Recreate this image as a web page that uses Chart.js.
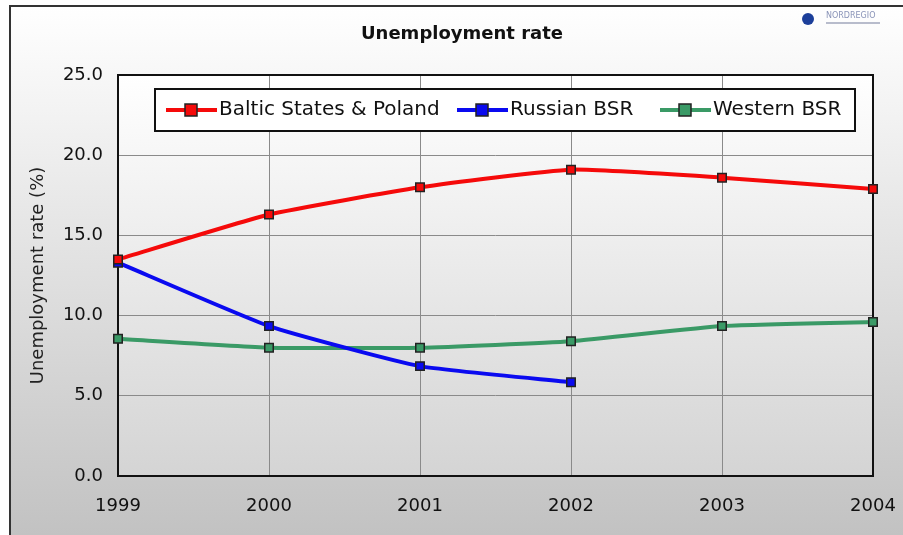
<!DOCTYPE html>
<html>
<head>
<meta charset="utf-8">
<script src="https://cdn.jsdelivr.net/npm/chart.js@4.4.1/dist/chart.umd.min.js"></script>
<style>
  html, body { margin: 0; padding: 0; background: #ffffff; }
  #wrap { width: 903px; height: 535px; position: relative; }
</style>
</head>
<body>
<div id="wrap"><canvas id="unempChart" width="903" height="535"></canvas></div>
<script>
// Data
const years = ['1999', '2000', '2001', '2002', '2003', '2004'];
const balticPoland = [13.5, 16.3, 18.0, 19.1, 18.6, 17.9];
const russianBSR = [13.3, 9.35, 6.85, 5.85, null, null];
const westernBSR = [8.55, 8.0, 8.0, 8.4, 9.35, 9.6];
const yTicks = [0, 5, 10, 15, 20, 25];

const FONT = '"DejaVu Sans", Verdana, sans-serif';

// Backgrounds, frame, title, logo and the in-plot legend
const decorPlugin = {
    id: 'decor',
    beforeDraw(chart) {
        const ctx = chart.ctx;
        const ca = chart.chartArea;
        ctx.save();
        // outer panel with grey gradient
        const g = ctx.createLinearGradient(0, 5, 0, 535);
        g.addColorStop(0, '#ffffff');
        g.addColorStop(1, '#c2c2c2');
        ctx.fillStyle = g;
        ctx.fillRect(9, 5, 903, 535);
        ctx.strokeStyle = '#333333';
        ctx.lineWidth = 2;
        ctx.beginPath();
        ctx.moveTo(10, 540);
        ctx.lineTo(10, 6);
        ctx.lineTo(905, 6);
        ctx.stroke();
        // plot area gradient
        const pg = ctx.createLinearGradient(0, ca.top, 0, ca.bottom);
        pg.addColorStop(0, '#ffffff');
        pg.addColorStop(1, '#d4d4d4');
        ctx.fillStyle = pg;
        ctx.fillRect(ca.left, ca.top, ca.right - ca.left, ca.bottom - ca.top);
        // title
        ctx.fillStyle = '#111111';
        ctx.font = 'bold 18px ' + FONT;
        ctx.textAlign = 'center';
        ctx.textBaseline = 'middle';
        ctx.fillText('Unemployment rate', 462, 34);
        // logo
        ctx.fillStyle = '#1c3f9a';
        ctx.beginPath();
        ctx.arc(808, 19, 6, 0, Math.PI * 2);
        ctx.fill();
        ctx.fillStyle = '#8a94b8';
        ctx.font = '8px ' + FONT;
        ctx.textAlign = 'left';
        ctx.fillText('NORDREGIO', 826, 16);
        ctx.fillStyle = '#b8bccc';
        ctx.fillRect(826, 22, 54, 2);
        ctx.restore();
    },
    beforeDatasetsDraw(chart) {
        const ctx = chart.ctx;
        const ca = chart.chartArea;
        ctx.save();
        ctx.strokeStyle = '#111111';
        ctx.lineWidth = 2;
        ctx.strokeRect(ca.left, ca.top, ca.right - ca.left, ca.bottom - ca.top);
        ctx.restore();
    },
    afterDraw(chart) {
        const ctx = chart.ctx;
        const box = { x: 155, y: 89, w: 700, h: 42 };
        ctx.save();
        ctx.fillStyle = '#ffffff';
        ctx.fillRect(box.x, box.y, box.w, box.h);
        ctx.strokeStyle = '#111111';
        ctx.lineWidth = 2;
        ctx.strokeRect(box.x, box.y, box.w, box.h);
        const starts = [166, 457, 660];
        const cy = box.y + box.h / 2;
        ctx.font = '20px ' + FONT;
        ctx.textBaseline = 'middle';
        ctx.textAlign = 'left';
        chart.data.datasets.forEach((ds, i) => {
            const x = starts[i];
            ctx.strokeStyle = ds.borderColor;
            ctx.lineWidth = 4;
            ctx.beginPath();
            ctx.moveTo(x, cy);
            ctx.lineTo(x + 51, cy);
            ctx.stroke();
            ctx.fillStyle = ds.backgroundColor;
            ctx.fillRect(x + 19, cy - 6, 12, 12);
            ctx.strokeStyle = '#222222';
            ctx.lineWidth = 1.5;
            ctx.strokeRect(x + 19, cy - 6, 12, 12);
            ctx.fillStyle = '#111111';
            ctx.fillText(ds.label, x + 53, cy);
        });
        ctx.restore();
    }
};

function makeSeries(label, data, color) {
    return {
        label: label,
        data: data,
        borderColor: color,
        backgroundColor: color,
        borderWidth: 4,
        tension: 0.15,
        pointStyle: 'rect',
        pointRadius: 6,
        pointBorderColor: '#222222',
        pointBorderWidth: 1.5,
        pointBackgroundColor: color,
        clip: false,
        spanGaps: false
    };
}

const config = {
    type: 'line',
    data: {
        labels: years,
        datasets: [
            makeSeries('Baltic States & Poland', balticPoland, '#f50a0a'),
            makeSeries('Russian BSR', russianBSR, '#0a0af0'),
            makeSeries('Western BSR', westernBSR, '#3a9a66')
        ]
    },
    options: {
        responsive: false,
        animation: false,
        layout: { padding: { top: 75, right: 30, left: 0, bottom: 0 } },
        plugins: {
            legend: { display: false },
            title: { display: false },
            tooltip: { enabled: false }
        },
        scales: {
            x: {
                type: 'category',
                offset: false,
                grid: { color: '#8a8a8a', lineWidth: 1, drawTicks: false },
                border: { display: false },
                ticks: {
                    padding: 20,
                    color: '#111111',
                    font: { family: FONT, size: 18 },
                    maxRotation: 0,
                    autoSkip: false
                },
                afterFit(scale) {
                    scale.height = 535 - 476;
                    scale.paddingLeft = 0;
                    scale.paddingRight = 0;
                }
            },
            y: {
                min: 0,
                max: 25,
                afterBuildTicks(scale) { scale.ticks = yTicks.map(v => ({ value: v })); },
                grid: { color: '#8a8a8a', lineWidth: 1, drawTicks: false },
                border: { display: false },
                ticks: {
                    padding: 15,
                    color: '#111111',
                    font: { family: FONT, size: 18 },
                    callback: v => Number(v).toFixed(1)
                },
                title: {
                    display: true,
                    text: 'Unemployment rate (%)',
                    color: '#222222',
                    font: { family: FONT, size: 18 },
                    padding: { top: 28, bottom: 0 }
                },
                afterFit(scale) { scale.width = 118; }
            }
        }
    },
    plugins: [decorPlugin]
};

new Chart(document.getElementById('unempChart').getContext('2d'), config);
</script>
</body>
</html>
